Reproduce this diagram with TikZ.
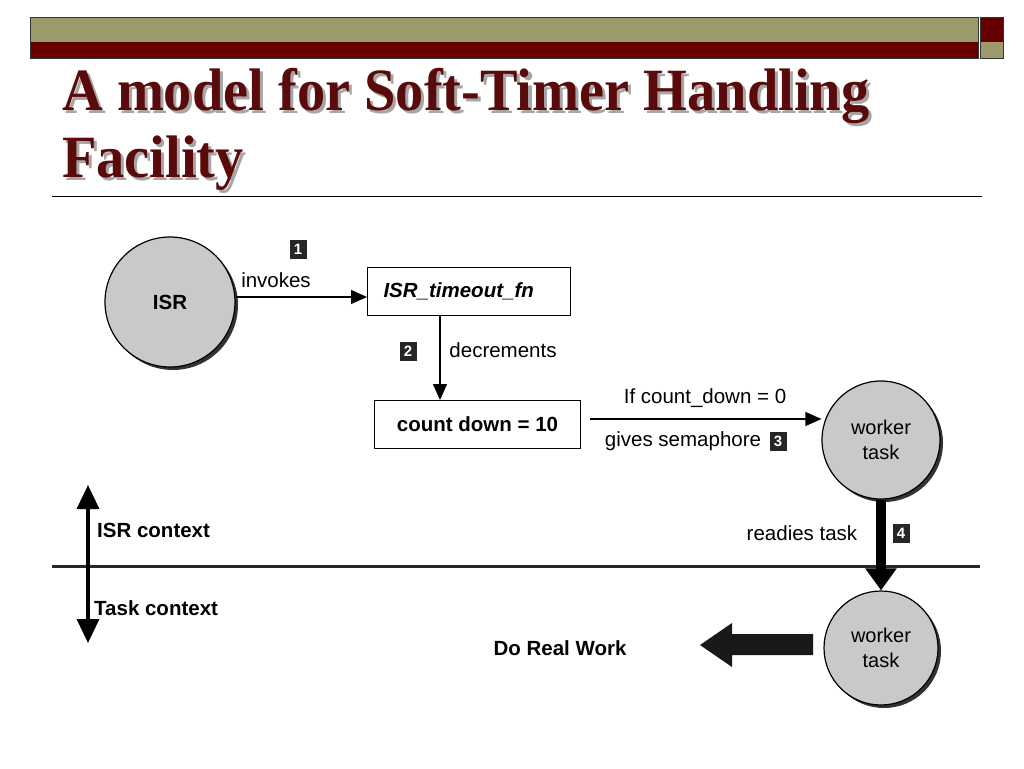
\documentclass[tikz,border=0pt]{standalone}
\usepackage{fontspec}
\setmainfont{Liberation Sans}
\newfontfamily\titlefont{Liberation Serif}
\usetikzlibrary{arrows.meta}
\definecolor{olive}{HTML}{9C9A6A}
\definecolor{darkred}{HTML}{660000}
\definecolor{titlered}{HTML}{5A0A0A}
\definecolor{circgray}{HTML}{C8C9CB}
\tikzset{
  lbl/.style={font=\fontsize{20.5}{23}\selectfont, inner sep=0pt},
  blbl/.style={font=\fontsize{20.5}{23}\selectfont\bfseries, inner sep=0pt},
  numbox/.style={fill=black!85, text=white, font=\fontsize{15}{15}\selectfont\bfseries, minimum width=17pt, minimum height=19pt, inner sep=0pt},
  procbox/.style={draw=black, line width=1pt, fill=white, inner sep=0pt},
  circ/.style={circle, draw=black, line width=1.2pt, fill=circgray, inner sep=0pt, align=center, font=\fontsize{20}{25}\selectfont},
  conn/.style={line width=1.2pt, -{Triangle[length=16pt,width=14pt]}},
  ttl/.style={anchor=base west, inner sep=0pt, font=\titlefont\fontsize{60}{62}\selectfont\bfseries, xscale=0.94},
}
\begin{document}
\begin{tikzpicture}[x=1pt,y=-1pt]
\useasboundingbox (0,0) rectangle (1024,768);
\fill[white] (0,0) rectangle (1024,768);
% header bars
\fill[olive] (30,17) rectangle (978,42);
\fill[darkred] (30,42) rectangle (978,58);
\draw[black!80, line width=0.6pt] (30,17) rectangle (978,58);
\fill[darkred] (980,17) rectangle (1003,42);
\fill[olive] (980,42) rectangle (1003,58);
\draw[black!80, line width=0.6pt] (980,17) rectangle (1003,58);
% title
\node[ttl, text=black!35] (tshadow1) at (65,113) {A model for Soft-Timer Handling};
\node[ttl, text=titlered] (title1) at (62,110) {A model for Soft-Timer Handling};
\node[ttl, text=black!35] (tshadow2) at (65,180) {Facility};
\node[ttl, text=titlered] (title2) at (62,177) {Facility};
\draw[black, line width=1pt] (52,196) -- (982,196);
% ISR circle
\fill[black!80] (173,305) circle (65);
\node[circ, minimum size=130pt, font=\fontsize{20.5}{22}\selectfont\bfseries] (isr) at (170,302) {ISR};
% boxes
\node[procbox, minimum width=203pt, minimum height=48pt, font=\fontsize{20.5}{23}\selectfont\bfseries\itshape, anchor=north west, text width=171pt, align=left] (fn) at (367,267) {ISR\_timeout\_fn};
\node[procbox, minimum width=206pt, minimum height=48pt, font=\fontsize{20.5}{23}\selectfont\bfseries, anchor=north west] (cd) at (374,400) {count down = 10};
% arrow 1
\draw[conn] (isr.east |- 0,297) -- (fn.west |- 0,297);
\node[lbl] (inv) at (276,280) {invokes};
\node[numbox] (n1) at (298,249) {1};
% arrow 2
\draw[conn] (fn.south -| 440,0) -- (cd.north -| 440,0);
\node[numbox] (n2) at (408,351) {2};
\node[lbl] (dec) at (503,350) {decrements};
% worker 1
\fill[black!80] (884,443) circle (59);
\node[circ, minimum size=118pt] (w1) at (881,440) {worker\\task};
\coordinate (c3s) at (590,419);
\draw[conn] (c3s) -- (w1.west |- c3s);
\node[lbl] (ifc) at (705,398) {If count\_down = 0};
\node[lbl] (gs) at (683,441) {gives semaphore};
\node[numbox] (n3) at (778,441) {3};
% separator and context arrow
\draw[black!85, line width=3pt] (52,566) -- (980,566);
\coordinate (ctop) at (88,485);
\coordinate (cbot) at (88,643);
\draw[line width=3.5pt, {Triangle[length=24pt,width=22pt]}-{Triangle[length=24pt,width=22pt]}] (ctop) -- (cbot);
\node[blbl, anchor=west] (isrc) at (97,530) {ISR context};
\node[blbl, anchor=west] (taskc) at (94,608) {Task context};
% worker 2
\fill[black!80] (884,651) circle (57);
\node[circ, minimum size=114pt] (w2) at (881,648) {worker\\task};
% thick arrow 4
\draw[line width=10pt, -{Triangle[length=22pt,width=30pt]}] (w1.south) -- (w2.north);
\node[lbl] (rt) at (802,533) {readies task};
\node[numbox] (n4) at (901,533) {4};
% big left arrow
\coordinate (tip) at (700,645);
\fill[black!90] (tip) -- (732,623) -- (732,634) -- (813,634) -- (813,655) -- (732,655) -- (732,667) -- cycle;
\node[blbl] (drw) at (560,648) {Do Real Work};
\end{tikzpicture}
\end{document}
